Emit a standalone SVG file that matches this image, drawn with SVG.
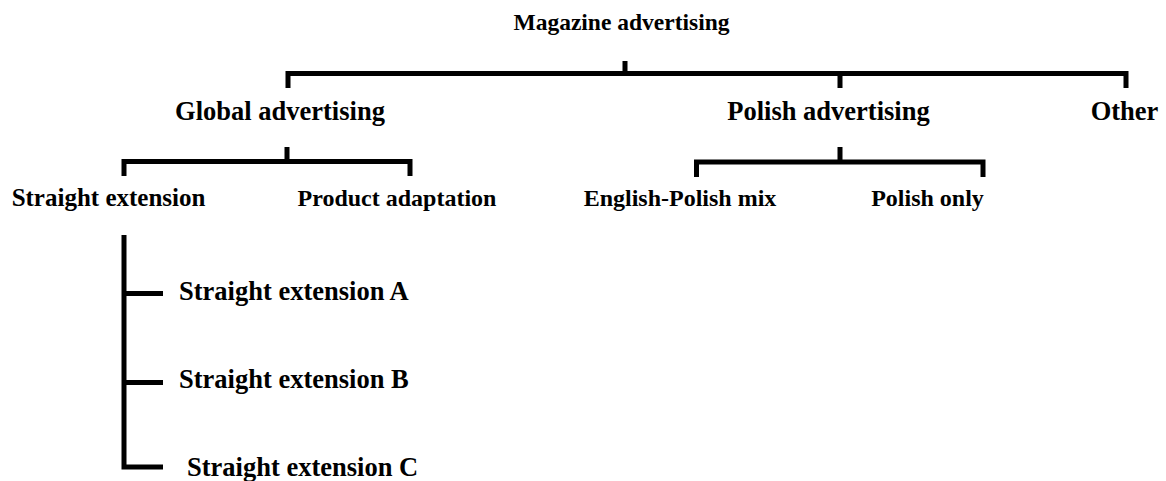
<svg xmlns="http://www.w3.org/2000/svg" width="1166" height="481" viewBox="0 0 1166 481">
<style>
text{font-family:"Liberation Serif","Times New Roman",serif;font-weight:bold;fill:#000}
.l0{font-size:23.5px}
.l1{font-size:26.5px}
.l2{font-size:24px}
.l3{font-size:26.5px}
.c{fill:none;stroke:#000;stroke-width:5;stroke-linecap:butt;stroke-linejoin:miter}
</style>
<rect width="1166" height="481" fill="#fff"/>
<g id="connectors">
<path class="c" d="M625 61V73.5M288 88V73.5H1126V88M840 73.5V88"/>
<path class="c" d="M287 147V161.5M124 176V161.5H410V176"/>
<path class="c" d="M840 147V162M696.5 177V162H983V177"/>
<path class="c" d="M124 235V467H163M124 293.5H163M124 382.5H163"/>
</g>
<g id="n-magazine"><text class="l0" x="621.5" y="30" text-anchor="middle">Magazine advertising</text></g>
<g id="n-global"><text class="l1" x="280" y="120" text-anchor="middle">Global advertising</text></g>
<g id="n-polish"><text class="l1" x="828.5" y="120" text-anchor="middle">Polish advertising</text></g>
<g id="n-other"><text class="l1" x="1124.5" y="120" text-anchor="middle">Other</text></g>
<g id="n-straight"><text class="l2" x="108.5" y="206" text-anchor="middle" style="font-size:25px">Straight extension</text></g>
<g id="n-product"><text class="l2" x="397" y="206" text-anchor="middle">Product adaptation</text></g>
<g id="n-engpol"><text class="l2" x="680" y="206" text-anchor="middle">English-Polish mix</text></g>
<g id="n-polonly"><text class="l2" x="927.5" y="206" text-anchor="middle">Polish only</text></g>
<g id="n-sa"><text class="l3" x="179" y="300">Straight extension A</text></g>
<g id="n-sb"><text class="l3" x="179" y="388">Straight extension B</text></g>
<g id="n-sc"><text class="l3" x="187" y="476">Straight extension C</text></g>
</svg>
